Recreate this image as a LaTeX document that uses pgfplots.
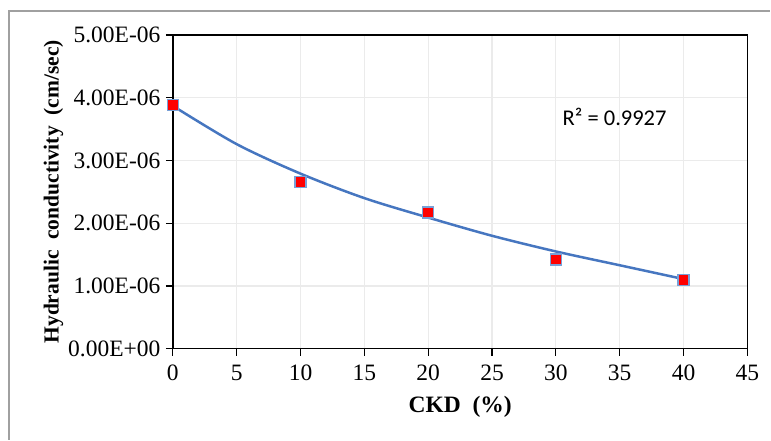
\documentclass[border=0pt]{standalone}
\usepackage{fontspec}
\setmainfont{Liberation Serif}
\newfontfamily\calibri{Carlito}
\usepackage{pgfplots}
\pgfplotsset{compat=1.18}
\definecolor{trendblue}{RGB}{70,118,192}
\definecolor{markedge}{RGB}{120,160,215}
\definecolor{gridgray}{RGB}{235,235,235}
\definecolor{framegray}{RGB}{160,160,160}

\begin{document}
\begin{tikzpicture}[x=1pt,y=1pt]
\begin{axis}[
    at={(0,0)}, anchor=south west,
    scale only axis,
    width=575pt, height=314pt,
    xmin=0, xmax=45,
    ymin=0, ymax=5e-6,
    xtick={0,5,...,45},
    ytick={0,1e-6,2e-6,3e-6,4e-6,5e-6},
    yticklabels={0.00E+00,1.00E-06,2.00E-06,3.00E-06,4.00E-06,5.00E-06},
    scaled y ticks=false,
    grid=major,
    major grid style={gridgray, line width=1.2pt},
    axis line style={black, line width=1.3pt},
    tick style={black, line width=1.2pt},
    tick align=outside,
    major tick length=7pt,
    xtick pos=bottom, ytick pos=left,
    tick label style={font=\fontsize{23.5}{26}\selectfont},
    /pgf/number format/assume math mode=true,
    xticklabel style={yshift=-6pt},
    yticklabel style={xshift=-2pt},
    xlabel={\textbf{CKD\ \ (\%)}},
    ylabel={\textbf{Hydraulic\ \ conductivity\ \ (cm/sec)}},
    xlabel style={font=\fontsize{23.5}{26}\selectfont, yshift=-8pt},
    ylabel style={font=\fontsize{21.5}{24}\selectfont, yshift=-2pt},
]
% trendline
\addplot[trendblue, line width=2.5pt, smooth] coordinates {
    (0,3.87e-6) (5,3.26e-6) (10,2.79e-6) (15,2.40e-6) (20,2.09e-6)
    (25,1.80e-6) (30,1.55e-6) (35,1.33e-6) (40,1.11e-6)
};
% measured values
\addplot[only marks, mark=square*, mark size=5.5pt,
    mark options={fill=red, draw=markedge, line width=1.3pt}] coordinates {
    (0,3.88e-6) (10,2.66e-6) (20,2.17e-6) (30,1.42e-6) (40,1.10e-6)
};
\node[font=\calibri\fontsize{22.5}{26}\selectfont] at (axis cs:34.6,3.69e-6) {R² = 0.9927};
\end{axis}
% chart area frame (left and top edges visible)
\draw[framegray, line width=1.2pt] (-164,-91) -- (-164,338) -- (598,338);
\path[use as bounding box] (-173,-91) rectangle (598,349);
\end{tikzpicture}
\end{document}
